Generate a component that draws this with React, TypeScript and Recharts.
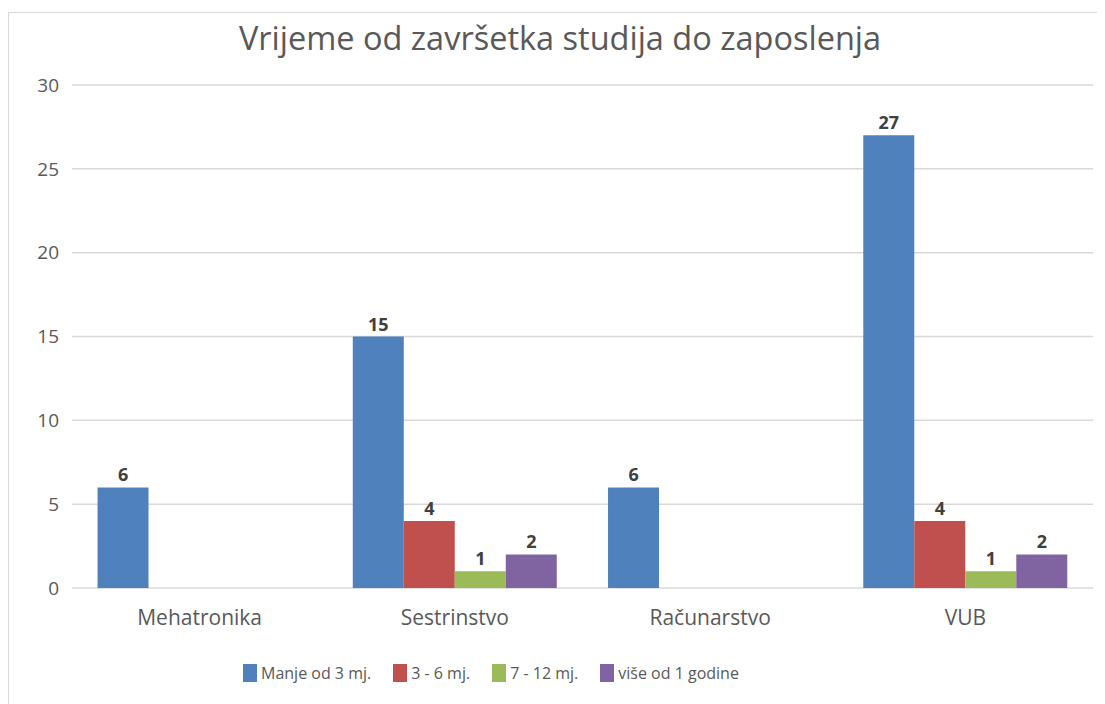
import React from "react";
import {
  BarChart,
  Bar,
  XAxis,
  YAxis,
  CartesianGrid,
  Legend,
  LabelList,
} from "recharts";

const categories = ["Mehatronika", "Sestrinstvo", "Računarstvo", "VUB"];
const manjeOd3 = [6, 15, 6, 27];
const od3do6 = [null, 4, null, 4];
const od7do12 = [null, 1, null, 1];
const viseOd1 = [null, 2, null, 2];
const yTicks = [0, 5, 10, 15, 20, 25, 30];

const series = [
  { key: "a", name: "Manje od 3 mj.", color: "#4F81BD", values: manjeOd3 },
  { key: "b", name: "3 - 6 mj.", color: "#C0504D", values: od3do6 },
  { key: "c", name: "7 - 12 mj.", color: "#9BBB59", values: od7do12 },
  { key: "d", name: "više od 1 godine", color: "#8064A2", values: viseOd1 },
];

const data = categories.map((name, i) => {
  const row: any = { name };
  series.forEach((s) => {
    row[s.key] = s.values[i];
  });
  return row;
});

const FONT = "'Open Sans', sans-serif";

// legenda ispod grafa
function LegendContent() {
  return (
    <div style={{ display: "flex", alignItems: "center", fontFamily: FONT }}>
      {series.map((s) => (
        <div
          key={s.key}
          style={{ display: "flex", alignItems: "center", marginRight: 22 }}
        >
          <span
            style={{
              display: "inline-block",
              width: 14,
              height: 18,
              background: s.color,
              marginRight: 4,
            }}
          />
          <span style={{ fontSize: 16, color: "#595959" }}>{s.name}</span>
        </div>
      ))}
    </div>
  );
}

export default function App() {
  return (
    <div style={{ paddingTop: 4 }}>
      <style>{`body{overflow:hidden}`}</style>
      <div
        style={{
          position: "relative",
          width: 1096,
          height: 691,
          borderTop: "1px solid #d9d9d9",
          borderLeft: "1px solid #d9d9d9",
          background: "#fff",
        }}
      >
        <div
          style={{
            position: "absolute",
            top: 9,
            left: 0,
            width: 1102,
            textAlign: "center",
            fontFamily: FONT,
            fontSize: 32.5,
            lineHeight: "32px",
            color: "#595959",
          }}
        >
          Vrijeme od završetka studija do zaposlenja
        </div>
        <BarChart
          width={1096}
          height={691}
          data={data}
          margin={{ top: 72, right: 12, left: 23, bottom: 76 }}
          barCategoryGap="10%"
          barGap={0}
        >
          <CartesianGrid vertical={false} stroke="#d9d9d9" strokeWidth={1.5} />
          <XAxis
            dataKey="name"
            axisLine={false}
            tickLine={false}
            height={40}
            tickMargin={16}
            tick={{ fill: "#595959", fontSize: 21, fontFamily: FONT }}
          />
          <YAxis
            domain={[0, 30]}
            ticks={yTicks}
            width={40}
            axisLine={false}
            tickLine={false}
            tickMargin={7}
            tick={{ fill: "#595959", fontSize: 19, fontFamily: FONT }}
          />
          <Legend
            layout="horizontal"
            verticalAlign="middle"
            align="center"
            wrapperStyle={{ top: 649, left: 234, width: "auto" }}
            content={() => <LegendContent />}
          />
          {series.map((s) => (
            <Bar
              key={s.key}
              dataKey={s.key}
              name={s.name}
              fill={s.color}
              isAnimationActive={false}
            >
              <LabelList
                dataKey={s.key}
                position="top"
                offset={6}
                formatter={(v: any) => (v == null ? "" : v)}
                style={{
                  fill: "#404040",
                  fontSize: 18,
                  fontWeight: "bold",
                  fontFamily: FONT,
                }}
              />
            </Bar>
          ))}
        </BarChart>
      </div>
    </div>
  );
}
